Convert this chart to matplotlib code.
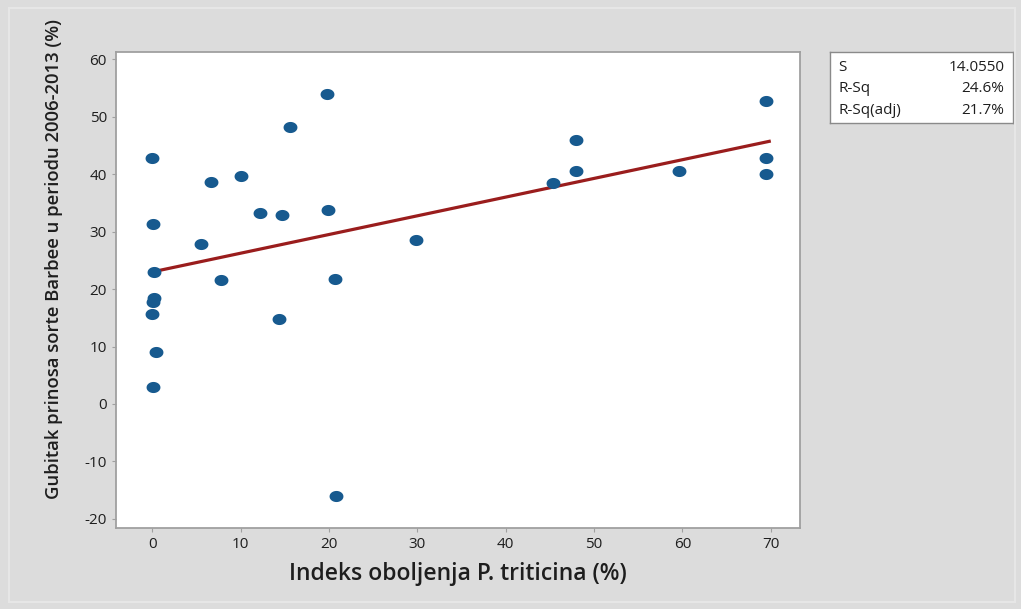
import numpy as np
import matplotlib
matplotlib.use("Agg")
import matplotlib.pyplot as plt
from matplotlib.patches import Rectangle
from matplotlib.path import Path

plt.rcParams['font.family'] = ['Open Sans', 'DejaVu Sans']
plt.rcParams['axes.unicode_minus'] = False

# Data
disease_index = [0.0, 0.1, 0.2, 0.2, 0.1, 0.0, 0.4, 0.1,
                 5.5, 6.6, 7.8, 10.1, 12.2, 14.7, 14.4, 15.6,
                 19.8, 19.9, 20.7, 20.8, 29.8, 45.4, 48.0, 48.0,
                 59.6, 69.5, 69.5, 69.5]
yield_loss = [42.9, 31.4, 23.0, 18.5, 17.8, 15.7, 9.1, 3.0,
              27.9, 38.7, 21.6, 39.7, 33.3, 32.9, 14.8, 48.3,
              54.0, 33.8, 21.8, -16.0, 28.6, 38.5, 46.0, 40.6,
              40.6, 52.8, 42.9, 40.1]
fit_x = [0, 70]
fit_y = [23.0, 45.8]
x_ticks = [0, 10, 20, 30, 40, 50, 60, 70]
y_ticks = [-20, -10, 0, 10, 20, 30, 40, 50, 60]
stat_names = ["S", "R-Sq", "R-Sq(adj)"]
stat_values = ["14.0550", "24.6%", "21.7%"]

# slightly wide elliptical dot, as in the reference
theta = np.linspace(0, 2 * np.pi, 41)
ellipse_marker = Path(np.column_stack([1.0 * np.cos(theta), 0.8 * np.sin(theta)]), closed=True)

bg = "#dcdcdc"
text_col = "#1e1e1e"
fig = plt.figure(figsize=(10.21, 6.09), dpi=100, facecolor=bg)
fig.patches.append(Rectangle((0.009, 0.012), 0.985, 0.975, transform=fig.transFigure,
                             facecolor="none", edgecolor="#e6e6e6", lw=1.5))

ax = fig.add_axes([0.1136, 0.133, 0.6699, 0.7816])
ax.set_facecolor("white")
ax.plot(fit_x, fit_y, color="#9a1d1d", lw=2.3, zorder=2, solid_capstyle="butt")
ax.plot(disease_index, yield_loss, linestyle="none", marker=ellipse_marker,
        markersize=10.0, color="#175a8f", markeredgewidth=0, zorder=3)

ax.set_xlim(-4.1, 73.3)
ax.set_ylim(-21.6, 61.3)
ax.set_xticks(x_ticks)
ax.set_yticks(y_ticks)
for sp in ax.spines.values():
    sp.set_color("#a0a0a0")
    sp.set_linewidth(1.3)
ax.tick_params(axis="both", colors="#a0a0a0", labelcolor=text_col, labelsize=11,
               length=3, width=0.8)

ax.set_xlabel("Indeks oboljenja P. triticina (%)", fontsize=16.5, color=text_col,
              fontweight="semibold")
ax.xaxis.set_label_coords(0.5, -0.072)
ax.set_ylabel("Gubitak prinosa sorte Barbee u periodu 2006-2013 (%)", fontsize=13.3,
              color=text_col, fontweight="semibold")
ax.yaxis.set_label_coords(-0.0775, 0.565)

# Statistics box
bx = fig.add_axes([0.813, 0.798, 0.179, 0.117])
bx.set_xlim(0, 1)
bx.set_ylim(0, 1)
bx.set_xticks([])
bx.set_yticks([])
bx.set_facecolor("white")
for sp in bx.spines.values():
    sp.set_color("#8a8a8a")
    sp.set_linewidth(1.0)
ys = [0.78, 0.48, 0.18]
for name, val, yy in zip(stat_names, stat_values, ys):
    bx.text(0.045, yy, name, fontsize=11, va="center", ha="left", color=text_col)
    bx.text(0.955, yy, val, fontsize=11, va="center", ha="right", color=text_col)

fig.savefig("out.png", dpi=100, facecolor=bg)
